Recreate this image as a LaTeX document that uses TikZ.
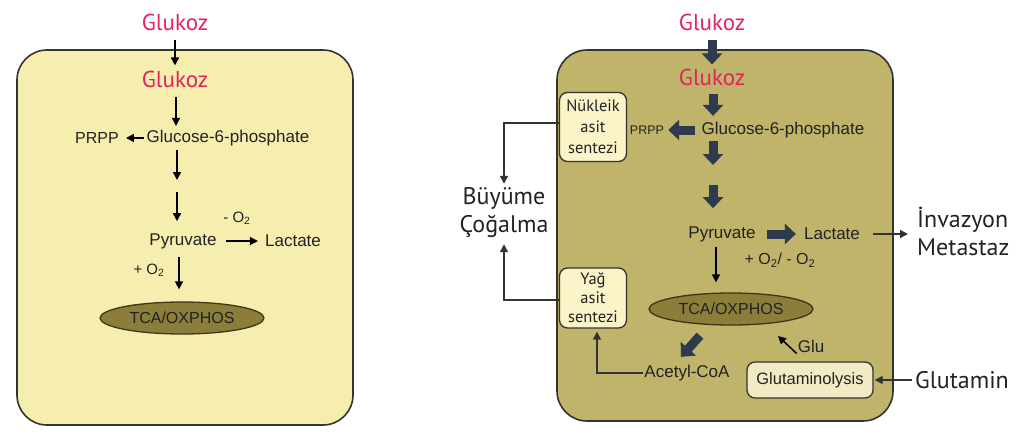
\documentclass[tikz,border=0pt]{standalone}
\usepackage{fontspec}
\setmainfont{Liberation Sans}
\newfontfamily\hum{PT Sans}
\usetikzlibrary{arrows.meta,shapes.geometric,calc}
\definecolor{lbox}{HTML}{F6EEAE}
\definecolor{rbox}{HTML}{BFB46A}
\definecolor{ell}{HTML}{8B7D3A}
\definecolor{ellb}{HTML}{3E3619}
\definecolor{bord}{HTML}{333333}
\definecolor{fatc}{HTML}{2E3B4E}
\definecolor{glk}{HTML}{E2235E}
\definecolor{cream}{HTML}{FBF4C8}
\definecolor{creamb}{HTML}{F2EAC2}
\definecolor{txt}{HTML}{222222}
\begin{document}
\begin{tikzpicture}[x=1pt,y=-1pt,
 cell/.style={draw=bord, line width=1.6pt, rounded corners=30pt, inner sep=0pt},
 lbl/.style={font=\fontsize{17}{20}\selectfont, text=txt, inner sep=1pt},
 sml/.style={font=\fontsize{15}{18}\selectfont, text=txt, inner sep=1pt},
 glkz/.style={font=\hum\fontsize{23}{26}\selectfont, text=glk, inner sep=1pt},
 big/.style={font=\hum\fontsize{24}{28}\selectfont, text=txt, inner sep=1pt},
 tcaell/.style={ellipse, draw=ellb, line width=1.3pt, fill=ell, minimum width=164pt, minimum height=32pt, inner sep=0pt, font=\fontsize{16}{19}\selectfont, text=txt},
 sbox/.style={draw=bord, line width=1.3pt, rounded corners=8pt, fill=cream, align=center, font=\hum\fontsize{16.5}{21}\selectfont, text=txt, inner sep=0pt},
 tarr/.style={draw=black, line width=1.5pt, -{Triangle[width=8pt,length=8pt]}},
 farr/.style={draw=fatc, line width=9pt, -{Triangle[width=20pt,length=11pt]}},
 conn/.style={draw=bord, line width=1.5pt, -{Triangle[width=8pt,length=8pt]}},
]
\useasboundingbox (0,0) rectangle (1024,434);

% ---------- left cell ----------
\node[cell, fill=lbox, minimum width=336pt, minimum height=375pt] (lcell) at (185,237.5) {};
\node[glkz] (lg1) at (175,22) {Glukoz};
\node[glkz] (lg2) at (175,79) {Glukoz};
\node[lbl] (lg6p) at (228,138) {Glucose-6-phosphate};
\node[lbl, font=\fontsize{16}{18}\selectfont] (lprpp) at (97,138) {PRPP};
\coordinate (lm) at (177,186);
\node[lbl] (lpyr) at (183,241) {Pyruvate};
\node[lbl] (llac) at (293,241) {Lactate};
\node[sml] (lo2m) at (237,218) {- O\textsubscript{2}};
\node[sml] (lo2p) at (149,270) {+ O\textsubscript{2}};
\node[tcaell] (ltca) at (182,318) {TCA/OXPHOS};

\draw[tarr, shorten <=8pt, shorten >=4pt] (lg1) -- (lg2);
\draw[tarr, shorten <=8pt, shorten >=3pt] ([shift={(1,0)}]lg2.south) -- ([shift={(-52,0)}]lg6p.north);
\draw[tarr, shorten <=2pt, shorten >=6pt] (lg6p.west) -- (lprpp.east);
\draw[tarr, shorten <=3pt, shorten >=6pt] ([shift={(-51,0)}]lg6p.south) -- (lm);
\draw[tarr, shorten <=6pt, shorten >=11pt] (lm) -- ([shift={(-6,0)}]lpyr.north);
\draw[tarr, shorten <=8pt, shorten >=6pt] (lpyr.east) -- (llac.west);
\draw[tarr, shorten <=7pt, shorten >=12pt] ([shift={(-4,0)}]lpyr.south) -- ([shift={(-3,0)}]ltca.north);

% ---------- right cell ----------
\node[cell, fill=rbox, minimum width=336pt, minimum height=371pt] (rcell) at (725,235.5) {};
\node[glkz] (rg1) at (712,22) {Glukoz};
\node[glkz] (rg2) at (712,77) {Glukoz};
\node[lbl] (rg6p) at (783,130) {Glucose-6-phosphate};
\node[lbl, font=\fontsize{12.5}{14}\selectfont] (rprpp) at (647,130) {PRPP};
\coordinate (rm) at (713,175);
\node[lbl] (rpyr) at (722,234) {Pyruvate};
\node[lbl] (rlac) at (832,234) {Lactate};
\node[sml, font=\fontsize{16}{19}\selectfont] (ro2) at (780,260) {+ O\textsubscript{2}/ - O\textsubscript{2}};
\node[tcaell] (rtca) at (731,309) {TCA/OXPHOS};
\node[lbl] (racc) at (687,373) {Acetyl-CoA};
\node[lbl] (rglu) at (811,346) {Glu};
\coordinate (glutip) at (778,336);
\node[sbox, fill=creamb, minimum width=126pt, minimum height=36pt, font=\fontsize{16.5}{19}\selectfont] (rglut) at (810,380) {Glutaminolysis};
\node[big] (rglutamin) at (962,380) {Glutamin};
\node[big, align=left, anchor=west] (rinv) at (916,231) {İnvazyon\\Metastaz};
\node[sbox, minimum width=67pt, minimum height=69pt] (rnuk) at (593,127) {Nükleik\\asit\\sentezi};
\node[sbox, minimum width=67pt, minimum height=60pt, font=\hum\fontsize{16.5}{19}\selectfont] (ryag) at (593,298) {Yağ\\asit\\sentezi};
\node[big, align=center] (rbuy) at (504,213) {Büyüme\\Çoğalma};

% fat arrows
\draw[farr, shorten <=8pt, shorten >=3pt] (rg1) -- (rg2);
\draw[farr, shorten <=7pt, shorten >=5pt] ([shift={(1,0)}]rg2.south) -- ([shift={(-70,0)}]rg6p.north);
\draw[farr, shorten <=6pt, shorten >=3pt] (rg6p.west) -- (rprpp.east);
\draw[farr, shorten <=2pt, shorten >=10pt] ([shift={(-70,0)}]rg6p.south) -- (rm);
\draw[farr, shorten <=10pt, shorten >=17pt] (rm) -- ([shift={(-9,0)}]rpyr.north);
\draw[farr, shorten <=10pt, shorten >=7pt] (rpyr.east) -- (rlac.west);
\draw[farr] ([shift={(-31,10)}]rtca.south) -- ([shift={(-6,-7)}]racc.north);

% thin arrows
\draw[tarr, shorten <=4pt, shorten >=10pt] ([shift={(-6,0)}]rpyr.south) -- ([shift={(-15,0)}]rtca.north);
\draw[tarr] (rglu.south west) -- (glutip);
\draw[conn, shorten <=12pt, shorten >=8pt] (rlac.east) -- (rinv.west |- rlac.east);
\draw[conn, shorten <=2pt, shorten >=1pt] (rglutamin.west) -- (rglut.east);
\draw[conn, shorten >=3pt] (racc.west) -| ([shift={(4,0)}]ryag.south);
\draw[conn, shorten >=3pt] ([shift={(0,-4)}]rnuk.west) -| (rbuy.north);
\draw[conn, shorten >=5pt] ([shift={(0,2)}]ryag.west) -| (rbuy.south);
\end{tikzpicture}
\end{document}
